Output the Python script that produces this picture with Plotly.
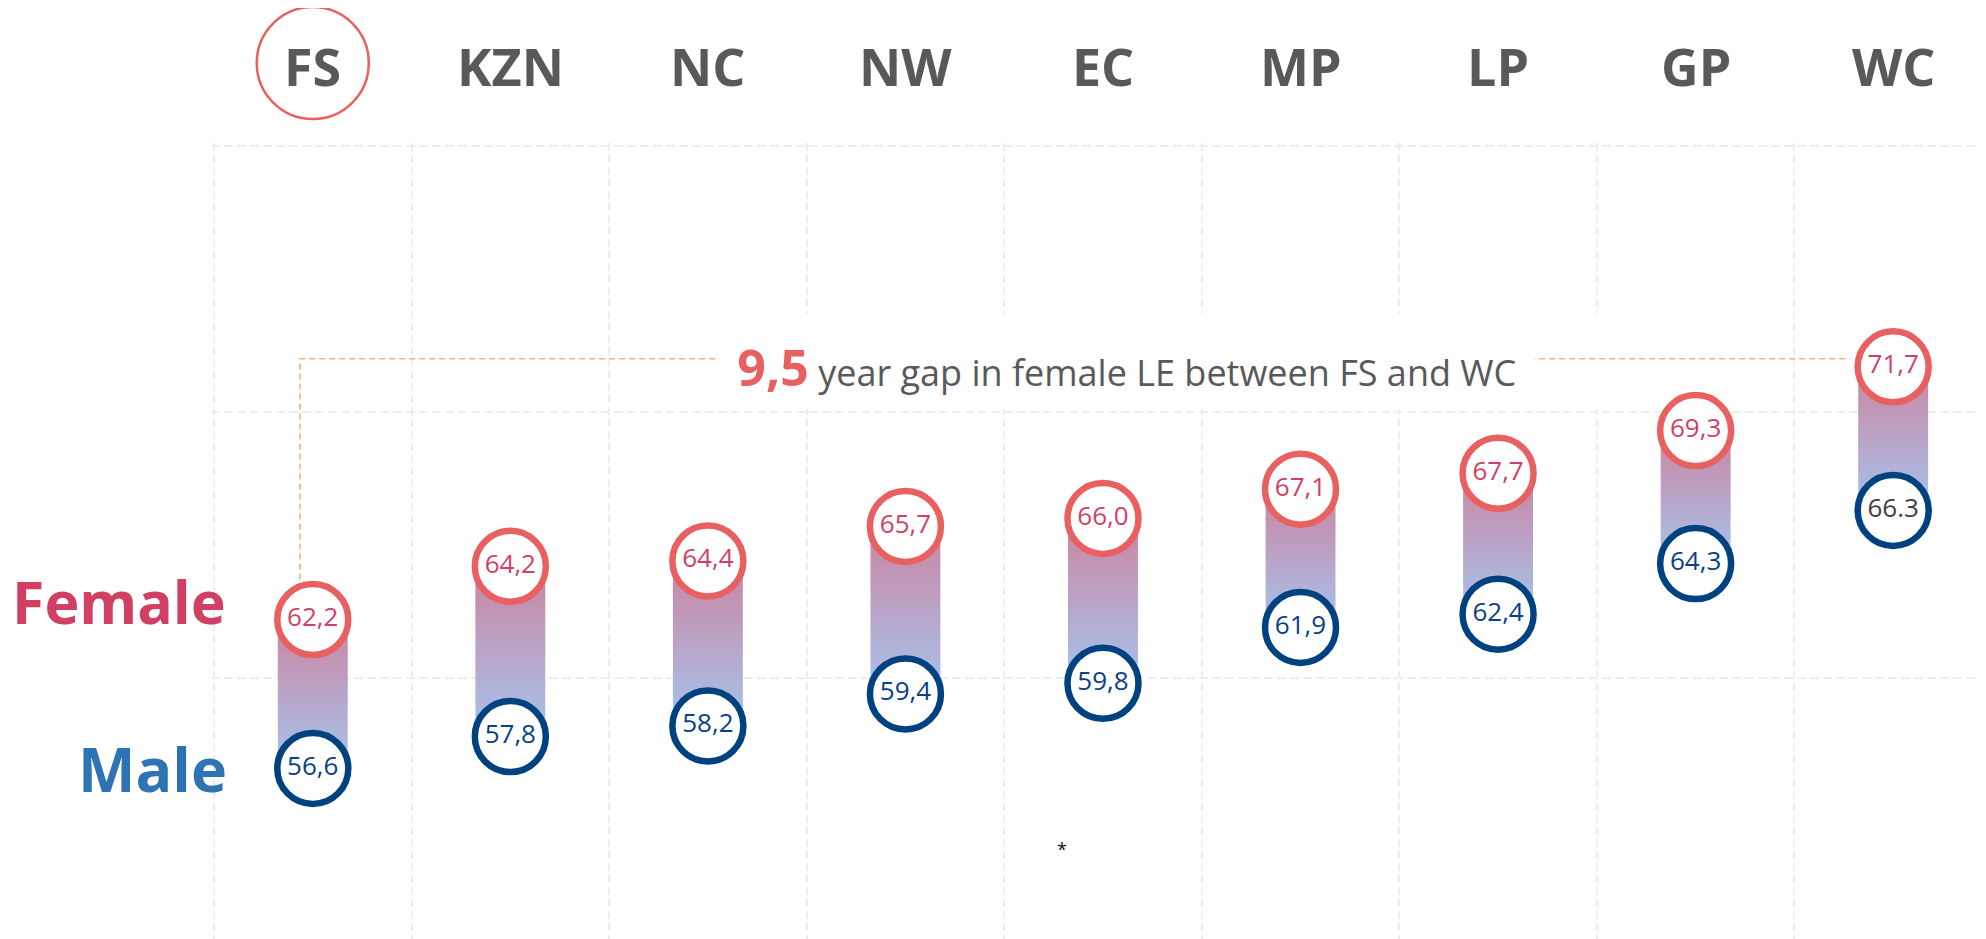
import plotly.graph_objects as go

# ---------------- data ----------------
provinces = ["FS", "KZN", "NC", "NW", "EC", "MP", "LP", "GP", "WC"]
female = [62.2, 64.2, 64.4, 65.7, 66.0, 67.1, 67.7, 69.3, 71.7]
male = [56.6, 57.8, 58.2, 59.4, 59.8, 61.9, 62.4, 64.3, 66.3]
female_labels = ["62,2", "64,2", "64,4", "65,7", "66,0", "67,1", "67,7", "69,3", "71,7"]
male_labels = ["56,6", "57,8", "58,2", "59,4", "59,8", "61,9", "62,4", "64,3", "66.3"]
y_grid = [50, 60, 70, 80]
x_bounds = [-0.5, 0.5, 1.5, 2.5, 3.5, 4.5, 5.5, 6.5, 7.5]

# ---------------- style / layout ----------------
W, H = 1986, 939
OFF = 8                      # page body margin
PAD = 3                      # keep edge gridlines inside the plot area
ML, MT = 214 - OFF - PAD, 146 - OFF - PAD
PLOT_W = W - ML
PLOT_H = H - MT
PX_PER_X = 197.55
PX_PER_Y = 26.6
X0 = -0.5 - PAD / PX_PER_X
Y1 = 80.0 + PAD / PX_PER_Y
X_RANGE = [X0, X0 + PLOT_W / PX_PER_X]
Y_RANGE = [Y1 - PLOT_H / PX_PER_Y, Y1]
FONT = "Open Sans"
RED = "#E8605F"
CRIMSON = "#D13F63"
NAVY = "#00427F"
MALE_TXT = "#0B3F86"
GREY = "#595959"
ORANGE = "#F4B183"
GRID = "#EDEDED"
BAR_HALF = 0.177


def py(sy):
    """screen y pixel -> paper y"""
    return (H - (sy - OFF)) / PLOT_H


def px(sx):
    """screen x pixel -> paper x"""
    return (sx - OFF - ML) / PLOT_W


def paper_x_from_data(x):
    return (x - X_RANGE[0]) / (X_RANGE[1] - X_RANGE[0])


fig = go.Figure()

# gradient connecting bars
for i in range(len(provinces)):
    xs = [i - BAR_HALF, i + BAR_HALF, i + BAR_HALF, i - BAR_HALF, i - BAR_HALF]
    ys = [male[i], male[i], female[i], female[i], male[i]]
    fig.add_trace(go.Scatter(
        x=xs, y=ys, mode="lines", fill="toself",
        line=dict(width=0, color="rgba(0,0,0,0)"),
        fillgradient=dict(type="vertical", start=male[i], stop=female[i],
                          colorscale=[[0, "#A6C4EE"], [1, "#CC84A0"]]),
        hoverinfo="skip", showlegend=False,
    ))

# gap connector line (FS -> WC)
level = max(female) + 0.3
fig.add_trace(go.Scatter(
    x=[0 - 0.065, 0 - 0.065, len(provinces) - 1 - 0.22],
    y=[female[0], level, level],
    mode="lines", line=dict(color=ORANGE, width=1.6, dash="6px,4px"),
    hoverinfo="skip", showlegend=False,
))

# female circles
fig.add_trace(go.Scatter(
    x=list(range(len(provinces))), y=female, mode="markers+text",
    text=female_labels, textposition="middle center",
    textfont=dict(family=FONT, size=26, color=CRIMSON),
    marker=dict(size=71, color="white", line=dict(color=RED, width=6.5)),
    showlegend=False, hoverinfo="skip",
))

# male circles
male_colors = [MALE_TXT] * (len(provinces) - 1) + ["#404040"]
fig.add_trace(go.Scatter(
    x=list(range(len(provinces))), y=male, mode="markers+text",
    text=male_labels, textposition="middle center",
    textfont=dict(family=FONT, size=26, color=male_colors),
    marker=dict(size=71, color="white", line=dict(color=NAVY, width=6.5)),
    showlegend=False, hoverinfo="skip",
))

annotations = []
# province labels along the top
for i, p in enumerate(provinces):
    annotations.append(dict(
        x=i, xref="x", y=py(65), yref="paper",
        text=f"<b>{p}</b>", showarrow=False, yanchor="middle",
        font=dict(family=FONT, size=52, color=GREY),
    ))

# Female / Male labels
annotations.append(dict(
    x=px(228), xref="paper", xanchor="right",
    y=py(601), yref="paper", yanchor="middle",
    text="<b>Female</b>", showarrow=False,
    font=dict(family=FONT, size=59, color=CRIMSON),
))
annotations.append(dict(
    x=px(229), xref="paper", xanchor="right",
    y=py(768), yref="paper", yanchor="middle",
    text="<b>Male</b>", showarrow=False,
    font=dict(family=FONT, size=61, color="#2E74B5"),
))

# gap annotation
gap = f"{female[-1] - female[0]:.1f}".replace(".", ",")
annotations.append(dict(
    x=4.12, xref="x", y=py(367), yref="paper", yanchor="middle",
    text=(f"&nbsp;<span style='font-size:50px;color:{RED}'><b>{gap}</b></span>"
          f" year gap in female LE between {provinces[0]} and {provinces[-1]}&nbsp;"),
    showarrow=False, bgcolor="white", borderpad=8,
    font=dict(family=FONT, size=36, color=GREY),
))

# stray asterisk
annotations.append(dict(
    x=px(1062), xref="paper", y=py(863), yref="paper", text="*", showarrow=False,
    font=dict(family=FONT, size=18, color="#111111"),
))

shapes = [
    # white backdrop hiding grid behind the annotation
    dict(type="rect", xref="x", yref="y", x0=1.66, x1=6.72, y0=70.12, y1=73.7,
         fillcolor="white", line=dict(width=0), layer="between"),
    # circle highlighting FS
    dict(type="circle", xref="paper", yref="paper",
         xsizemode="pixel", ysizemode="pixel",
         xanchor=paper_x_from_data(0), yanchor=py(63),
         x0=-56, x1=56, y0=-56, y1=56,
         line=dict(color=RED, width=2.5)),
]

fig.update_layout(
    width=W, height=H,
    margin=dict(l=ML, r=0, t=MT, b=0, pad=0),
    paper_bgcolor="white", plot_bgcolor="white",
    font=dict(family=FONT),
    xaxis=dict(range=X_RANGE, tickvals=x_bounds, showticklabels=False,
               showgrid=True, gridcolor=GRID, gridwidth=1.8, griddash="8px,4px",
               zeroline=False, showline=False, ticks="", fixedrange=True),
    yaxis=dict(range=Y_RANGE, tickvals=y_grid, showticklabels=False,
               showgrid=True, gridcolor=GRID, gridwidth=1.8, griddash="9px,4px",
               zeroline=False, showline=False, ticks="", fixedrange=True),
    annotations=annotations,
    shapes=shapes,
    showlegend=False,
)

fig.write_html("out.html")
